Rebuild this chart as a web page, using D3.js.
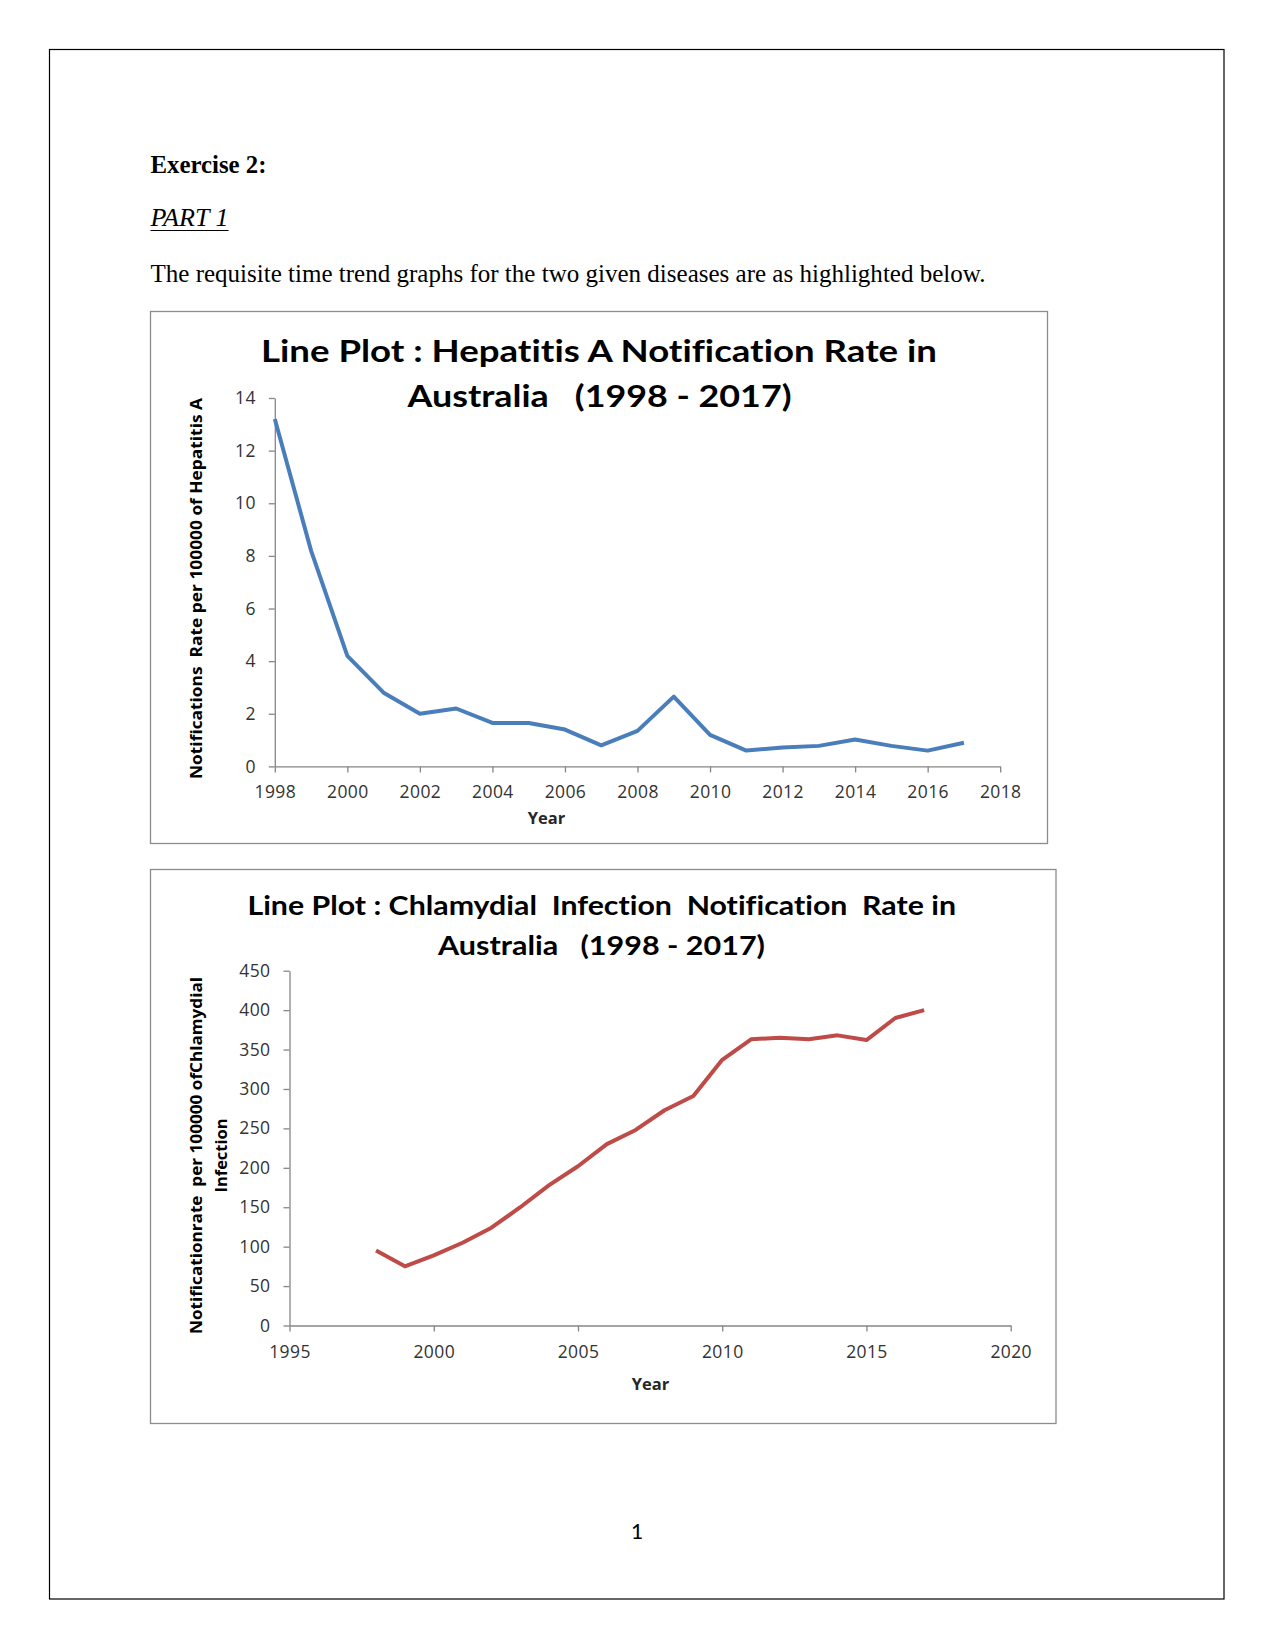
<!DOCTYPE html>
<html>
<head>
<meta charset="utf-8">
<script src="https://cdn.jsdelivr.net/npm/d3@7"></script>
<style>
  html, body { margin: 0; padding: 0; background: #fff; }
  svg { display: block; }
  text { white-space: pre; font-variant-ligatures: none; font-feature-settings: "liga" 0, "clig" 0; }
</style>
</head>
<body>
<svg id="page" width="1275" height="1651"></svg>
<script>
// ---------- data ----------
const years = [1998, 1999, 2000, 2001, 2002, 2003, 2004, 2005, 2006, 2007,
               2008, 2009, 2010, 2011, 2012, 2013, 2014, 2015, 2016, 2017];
const hepatitisARates = [13.2, 8.2, 4.2, 2.8, 2.0, 2.2, 1.65, 1.65, 1.4, 0.8,
                         1.35, 2.65, 1.2, 0.6, 0.72, 0.78, 1.02, 0.78, 0.6, 0.9];
const chlamydiaRates = [95, 75, 89, 105, 124, 150, 178, 202, 230, 248,
                        273, 291, 337, 363, 365, 363, 368, 362, 390, 400];
const hepXTicks = [1998, 2000, 2002, 2004, 2006, 2008, 2010, 2012, 2014, 2016, 2018];
const hepYTicks = [0, 2, 4, 6, 8, 10, 12, 14];
const chlXTicks = [1995, 2000, 2005, 2010, 2015, 2020];
const chlYTicks = [0, 50, 100, 150, 200, 250, 300, 350, 400, 450];

const hepTitle = ["Line Plot : Hepatitis A Notification Rate in", "Australia   (1998 - 2017)"];
const chlTitle = ["Line Plot : Chlamydial  Infection  Notification  Rate in", "Australia   (1998 - 2017)"];
const hepYTitle = ["Notifications  Rate per 100000 of Hepatitis A"];
const chlYTitle = ["Notificationrate  per 100000 ofChlamydial", "Infection"];

// ---------- page ----------
const svg = d3.select("#page");
svg.append("rect").attr("x", 49.5).attr("y", 49.5).attr("width", 1174.5).attr("height", 1549.5)
  .attr("fill", "none").attr("stroke", "#000").attr("stroke-width", 1.2);

const serif = "'Liberation Serif', 'Times New Roman', serif";
svg.append("text").attr("x", 150.5).attr("y", 172.5)
  .attr("font-family", serif).attr("font-weight", "bold").attr("font-size", 25)
  .attr("textLength", 116).attr("lengthAdjust", "spacingAndGlyphs")
  .text("Exercise 2:");
svg.append("text").attr("x", 150.5).attr("y", 226)
  .attr("font-family", serif).attr("font-style", "italic").attr("font-size", 25)
  .attr("textLength", 78).attr("lengthAdjust", "spacingAndGlyphs")
  .text("PART 1");
svg.append("line").attr("x1", 150.5).attr("x2", 228.5).attr("y1", 230.5).attr("y2", 230.5)
  .attr("stroke", "#000").attr("stroke-width", 1.2);
svg.append("text").attr("x", 150.5).attr("y", 281.5)
  .attr("font-family", serif).attr("font-size", 25)
  .attr("textLength", 835).attr("lengthAdjust", "spacingAndGlyphs")
  .text("The requisite time trend graphs for the two given diseases are as highlighted below.");

svg.append("text").attr("x", 637).attr("y", 1539).attr("text-anchor", "middle")
  .attr("font-family", "Lato, 'Liberation Sans', sans-serif").attr("font-size", 21)
  .text("1");

// ---------- chart helper ----------
const tickFont = "'Open Sans', 'DejaVu Sans', sans-serif";
const titleFont = "Lato, 'Open Sans', sans-serif";

function drawChart(cfg) {
  const g = svg.append("g");
  g.append("rect").attr("x", cfg.box[0]).attr("y", cfg.box[1])
    .attr("width", cfg.box[2]).attr("height", cfg.box[3])
    .attr("fill", "#fff").attr("stroke", "#8c8c8c").attr("stroke-width", 1.3);

  const x = d3.scaleLinear().domain(cfg.xDomain).range(cfg.xRange);
  const y = d3.scaleLinear().domain(cfg.yDomain).range(cfg.yRange);

  // title
  cfg.title.forEach((t, i) => {
    g.append("text").attr("x", cfg.titleX[i]).attr("y", cfg.titleY[i])
      .attr("font-family", titleFont).attr("font-weight", "bold")
      .attr("font-size", cfg.titleSize)
      .attr("textLength", cfg.titleLen[i]).attr("lengthAdjust", "spacingAndGlyphs")
      .attr("fill", "#000")
      .text(t);
  });

  // axes
  const xAxis = d3.axisBottom(x).tickValues(cfg.xTicks).tickFormat(d3.format("d"))
    .tickSizeInner(6).tickSizeOuter(0).tickPadding(cfg.xPad);
  const yAxis = d3.axisLeft(y).tickValues(cfg.yTicks).tickFormat(d3.format("d"))
    .tickSizeInner(6).tickSizeOuter(0).tickPadding(13);

  const gx = g.append("g").attr("transform", `translate(0,${cfg.yRange[0]})`).call(xAxis);
  const gy = g.append("g").attr("transform", `translate(${cfg.xRange[0]},0)`).call(yAxis);
  [gx, gy].forEach(a => {
    a.select(".domain").attr("stroke", "#868686").attr("stroke-width", 1.3);
    a.selectAll(".tick line").attr("stroke", "#868686").attr("stroke-width", 1.3);
    a.selectAll(".tick text").attr("font-family", tickFont).attr("font-size", 17.5)
      .attr("letter-spacing", "0.4px").attr("fill", "#333");
  });

  // axis titles
  g.append("text").attr("x", cfg.xTitlePos[0]).attr("y", cfg.xTitlePos[1])
    .attr("text-anchor", "middle").attr("font-family", tickFont).attr("font-weight", "bold")
    .attr("font-size", 16.5).attr("fill", "#262626").text("Year");

  cfg.yTitle.forEach((t, i) => {
    g.append("text")
      .attr("transform", `translate(${cfg.yTitleX[i]},${cfg.yTitleCY}) rotate(-90)`)
      .attr("text-anchor", "middle").attr("font-family", tickFont).attr("font-weight", "bold")
      .attr("font-size", 15.5).attr("fill", "#000")
      .attr("textLength", cfg.yTitleLen[i]).attr("lengthAdjust", "spacingAndGlyphs")
      .text(t);
  });

  // line
  const line = d3.line().x((d, i) => x(years[i])).y(d => y(d));
  g.append("path").datum(cfg.values)
    .attr("d", line).attr("fill", "none")
    .attr("stroke", cfg.color).attr("stroke-width", 4)
    .attr("stroke-linejoin", "round").attr("stroke-linecap", "butt");
}

drawChart({
  box: [150.5, 311.5, 897, 532],
  xDomain: [1998, 2018], xRange: [274.8, 1000.2],
  yDomain: [0, 14], yRange: [766.4, 398],
  xTicks: hepXTicks, yTicks: hepYTicks, xPad: 13,
  title: hepTitle, titleX: [261, 407.5], titleY: [362, 407], titleLen: [676, 384], titleSize: 30,
  xTitlePos: [546.4, 824],
  yTitle: hepYTitle, yTitleX: [201.5], yTitleCY: 588.5, yTitleLen: [381],
  values: hepatitisARates, color: "#4a7ebb"
});

drawChart({
  box: [150.5, 869.5, 905.5, 554],
  xDomain: [1995, 2020], xRange: [289.5, 1010.7],
  yDomain: [0, 450], yRange: [1325.5, 970.7],
  xTicks: chlXTicks, yTicks: chlYTicks, xPad: 14,
  title: chlTitle, titleX: [247.4, 438], titleY: [914.5, 954.5], titleLen: [708.6, 327], titleSize: 27,
  xTitlePos: [650.6, 1390],
  yTitle: chlYTitle, yTitleX: [201.5, 226.5], yTitleCY: 1155.5, yTitleLen: [357, 74],
  values: chlamydiaRates, color: "#be4b48"
});
</script>
</body>
</html>
